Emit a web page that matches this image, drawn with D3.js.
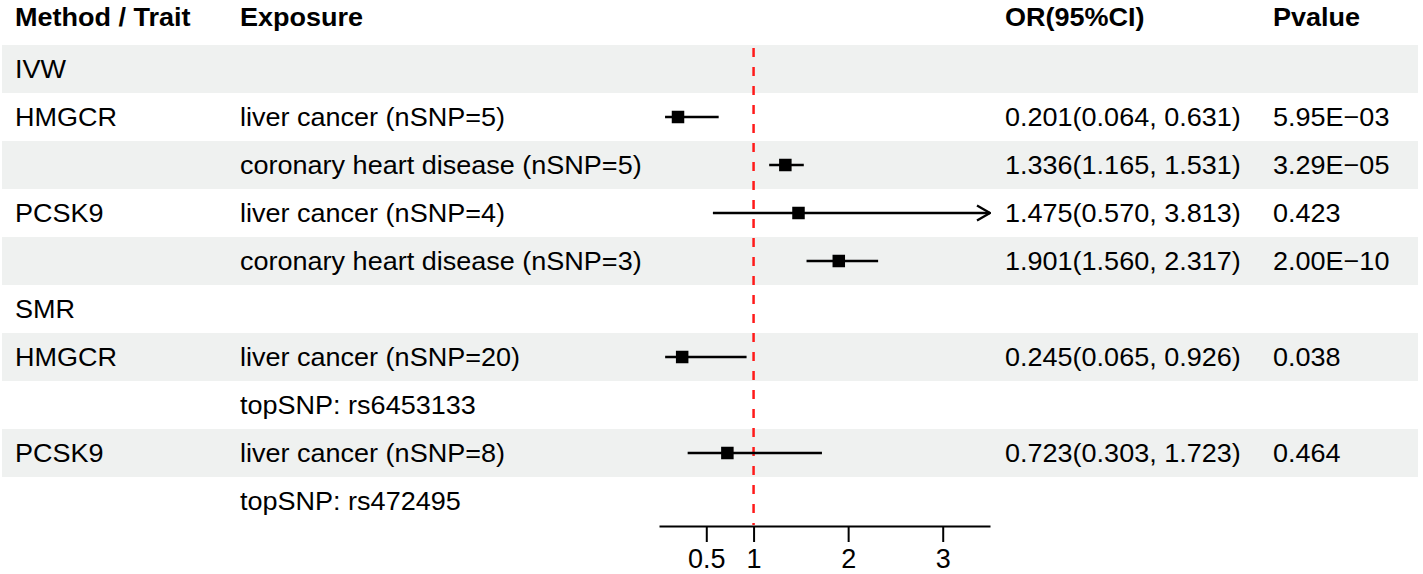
<!DOCTYPE html>
<html>
<head>
<meta charset="utf-8">
<script src="https://cdn.jsdelivr.net/npm/d3@7"></script>
<style>
  body { margin: 0; background: #fff; }
  text { font-family: "Liberation Sans", Arial, sans-serif; fill: #000; }
</style>
</head>
<body>
<svg id="forest" width="1423" height="574"></svg>
<script>
// table content, one entry per row
const methods = ["IVW", "HMGCR", "", "PCSK9", "", "SMR", "HMGCR", "", "PCSK9", ""];
const exposures = [
    "",
    "liver cancer (nSNP=5)",
    "coronary heart disease (nSNP=5)",
    "liver cancer (nSNP=4)",
    "coronary heart disease (nSNP=3)",
    "",
    "liver cancer (nSNP=20)",
    "topSNP: rs6453133",
    "liver cancer (nSNP=8)",
    "topSNP: rs472495"
];
const orEst  = [null, 0.201, 1.336, 1.475, 1.901, null, 0.245, null, 0.723, null];
const orLow  = [null, 0.064, 1.165, 0.570, 1.560, null, 0.065, null, 0.303, null];
const orHigh = [null, 0.631, 1.531, 3.813, 2.317, null, 0.926, null, 1.723, null];
const pvalues = ["", "5.95E\u221203", "3.29E\u221205", "0.423", "2.00E\u221210", "", "0.038", "", "0.464", ""];
const headers = ["Method / Trait", "Exposure", "OR(95%CI)", "Pvalue"];
const xTicks = [0.5, 1, 2, 3];
const refValue = 1;

const svg = d3.select("#forest");
const fontSize = 26.5;
const colX = { method: 15, exposure: 240, or: 1005, p: 1273 };

const y = d3.scaleBand().domain(d3.range(methods.length)).range([45, 525]);
const x = d3.scaleLinear().domain([0, 3.5]).range([659, 990]);
const f3 = d3.format(".3f");

// text is drawn slightly wider than it is tall, as in the original
const stretch = 1.02;

// striped rows
svg.append("g")
    .selectAll("rect")
    .data(d3.range(methods.length).filter(i => i % 2 === 0))
    .enter()
    .append("rect")
    .attr("x", 2)
    .attr("y", i => y(i))
    .attr("width", 1416)
    .attr("height", y.bandwidth())
    .attr("fill", "#eff1f0");

// header
svg.append("g")
    .selectAll("text")
    .data(headers)
    .enter()
    .append("text")
    .attr("transform", (d, i) => `translate(${[colX.method, colX.exposure, colX.or, colX.p][i]},26) scale(${stretch},1)`)
    .style("font-size", fontSize + "px")
    .style("font-weight", "bold")
    .text(d => d);

// body text
const rows = svg.append("g")
    .selectAll("g")
    .data(d3.range(methods.length))
    .enter()
    .append("g")
    .attr("transform", i => `translate(0,${y(i) + y.bandwidth() / 2 + 9.3})`)
    .style("font-size", fontSize + "px");

const cell = (col, fn) => rows.append("text")
    .attr("transform", `translate(${col},0) scale(${stretch},1)`)
    .text(fn);

cell(colX.method, i => methods[i]);
cell(colX.exposure, i => exposures[i]);
cell(colX.or, i => orEst[i] == null ? "" : `${f3(orEst[i])}(${f3(orLow[i])}, ${f3(orHigh[i])})`);
cell(colX.p, i => pvalues[i]);

// reference line at OR = 1
svg.append("line")
    .attr("x1", x(refValue))
    .attr("x2", x(refValue))
    .attr("y1", 48)
    .attr("y2", 525)
    .attr("stroke", "#ff1a1a")
    .attr("stroke-width", 2.5)
    .attr("stroke-dasharray", "9,10");

// arrow marker for CIs running off the axis
svg.append("defs").append("marker")
    .attr("id", "arrow")
    .attr("viewBox", "0 0 15 18")
    .attr("refX", 14)
    .attr("refY", 9)
    .attr("markerWidth", 15)
    .attr("markerHeight", 18)
    .attr("markerUnits", "userSpaceOnUse")
    .attr("orient", "auto")
    .append("path")
    .attr("d", "M1,1.5 L14,9 L1,16.5")
    .attr("fill", "none")
    .attr("stroke", "#000")
    .attr("stroke-width", 2.3);

const est = d3.range(methods.length).filter(i => orEst[i] != null);
const [xMin, xMax] = x.domain();

const ci = svg.append("g");
ci.selectAll("line")
    .data(est)
    .enter()
    .append("line")
    .attr("x1", i => x(Math.max(orLow[i], xMin)))
    .attr("x2", i => x(Math.min(orHigh[i], xMax)))
    .attr("y1", i => y(i) + y.bandwidth() / 2)
    .attr("y2", i => y(i) + y.bandwidth() / 2)
    .attr("stroke", "#000")
    .attr("stroke-width", 2.4)
    .attr("marker-end", i => orHigh[i] > xMax ? "url(#arrow)" : null);

const box = 12.5;
ci.selectAll("rect")
    .data(est)
    .enter()
    .append("rect")
    .attr("x", i => x(orEst[i]) - box / 2)
    .attr("y", i => y(i) + y.bandwidth() / 2 - box / 2)
    .attr("width", box)
    .attr("height", box)
    .attr("fill", "#000");

// x axis
const axis = svg.append("g")
    .attr("transform", "translate(0,526)")
    .call(d3.axisBottom(x).tickValues(xTicks).tickFormat(d3.format("")).tickSize(16).tickSizeOuter(0));
axis.select(".domain").attr("stroke-width", 2);
axis.selectAll(".tick line").attr("stroke-width", 2);
axis.selectAll(".tick text")
    .attr("y", 42)
    .attr("dy", 0)
    .style("font-size", "27px")
    .style("font-family", "'Liberation Sans', Arial, sans-serif");
</script>
</body>
</html>
